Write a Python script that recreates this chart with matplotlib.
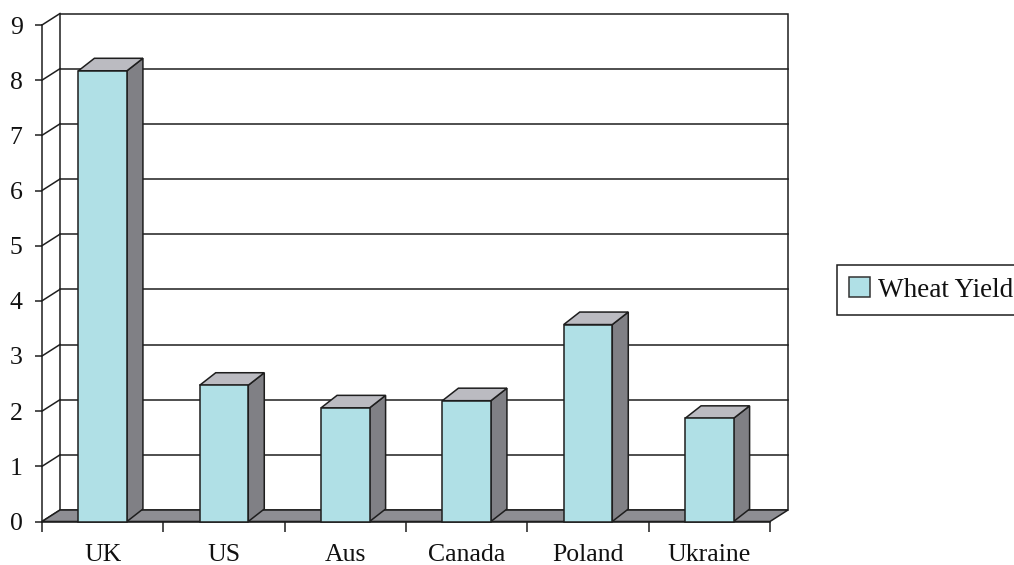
import matplotlib
matplotlib.use("Agg")
import matplotlib.pyplot as plt
from matplotlib.patches import Polygon, Rectangle

# Wheat yield by country (tonnes per hectare)
countries = ["UK", "US", "Aus", "Canada", "Poland", "Ukraine"]
wheat_yield = [8.17, 2.47, 2.06, 2.19, 3.57, 1.87]
y_ticks = list(range(0, 10))
series_name = "Wheat Yield"

plt.rcParams['font.family'] = ['Liberation Serif', 'DejaVu Serif']

W, H = 1014, 565
fig = plt.figure(figsize=(W / 100, H / 100), dpi=100)
fig.patch.set_facecolor("white")

# front plane of the plot (pixels)
left_px, right_px = 42, 770
y0_px, ytop_px = 521.5, 25
ax = fig.add_axes([left_px / W, (H - y0_px) / H,
                   (right_px - left_px) / W, (y0_px - ytop_px) / H])
ax.set_xlim(-0.5, len(countries) - 0.5)
ax.set_ylim(y_ticks[0], y_ticks[-1])
ax.patch.set_visible(False)

# convert pixel depth offsets into data units
sx = (right_px - left_px) / len(countries)
sy = (y0_px - ytop_px) / (y_ticks[-1] - y_ticks[0])
fdx, fdy = 18 / sx, 11.5 / sy      # walls / floor depth
bdx, bdy = 16 / sx, 12.5 / sy      # column depth
half_w = 0.2

line_c = "#1e1e1e"
face_c = "#b0e0e6"
top_c = "#bbbbc1"
side_c = "#808085"
floor_c = "#8e8e93"
x_lo, x_hi = -0.5, len(countries) - 0.5
ymax = y_ticks[-1]
lw = 1.1

# back wall
ax.add_patch(Rectangle((x_lo + fdx, fdy), x_hi - x_lo, ymax,
                       facecolor="white", edgecolor=line_c, lw=lw,
                       clip_on=False, zorder=1))
# gridlines on the back wall
for k in y_ticks[1:-1]:
    ax.plot([x_lo + fdx, x_hi + fdx], [k + fdy, k + fdy], color=line_c,
            lw=lw, clip_on=False, zorder=1.5)
# side wall: connectors from the front axis to the back wall
for k in y_ticks:
    ax.plot([x_lo, x_lo + fdx], [k, k + fdy], color=line_c, lw=lw,
            clip_on=False, zorder=1.5)

# floor
ax.add_patch(Polygon([(x_lo, 0), (x_hi, 0), (x_hi + fdx, fdy), (x_lo + fdx, fdy)],
                     closed=True, facecolor=floor_c, edgecolor=line_c, lw=lw,
                     clip_on=False, zorder=2))

# 3D columns
for i, v in enumerate(wheat_yield):
    xl, xr = i - half_w, i + half_w
    side = [(xr, 0), (xr + bdx, bdy), (xr + bdx, v + bdy), (xr, v)]
    top = [(xl, v), (xr, v), (xr + bdx, v + bdy), (xl + bdx, v + bdy)]
    front = [(xl, 0), (xr, 0), (xr, v), (xl, v)]
    for pts, c in ((side, side_c), (top, top_c), (front, face_c)):
        ax.add_patch(Polygon(pts, closed=True, facecolor=c, edgecolor=line_c,
                             lw=lw, joinstyle="miter", clip_on=False, zorder=3))

# axes
for s in ("top", "right"):
    ax.spines[s].set_visible(False)
for s in ("left", "bottom"):
    ax.spines[s].set_color(line_c)
    ax.spines[s].set_linewidth(lw)
    ax.spines[s].set_zorder(2.6)

ax.set_yticks(y_ticks)
ax.set_yticklabels([str(t) for t in y_ticks])
ax.tick_params(axis="y", length=5, width=lw, color=line_c, pad=9,
               labelsize=18.5, labelcolor="#111111")

ax.set_xticks(range(len(countries)))
ax.set_xticklabels(countries)
ax.set_xticks([i - 0.5 for i in range(len(countries) + 1)], minor=True)
ax.tick_params(axis="x", which="major", length=0, pad=16,
               labelsize=18.5, labelcolor="#111111")
ax.tick_params(axis="x", which="minor", length=7, width=lw, color=line_c)

# legend
proxy = Rectangle((0, 0), 1, 1, facecolor=face_c, edgecolor="#333333", lw=lw)
leg = fig.legend(handles=[proxy], labels=[series_name], loc="upper left",
                 bbox_to_anchor=(837 / W, 1 - 265 / H), frameon=True,
                 fancybox=False, framealpha=1, edgecolor=line_c,
                 handlelength=0.75, handleheight=0.75, handletextpad=0.3,
                 borderpad=0.45, borderaxespad=0, fontsize=19.5)
leg.get_frame().set_linewidth(lw)
for t in leg.get_texts():
    t.set_color("#111111")

fig.savefig("out.png", dpi=100, facecolor="white")
